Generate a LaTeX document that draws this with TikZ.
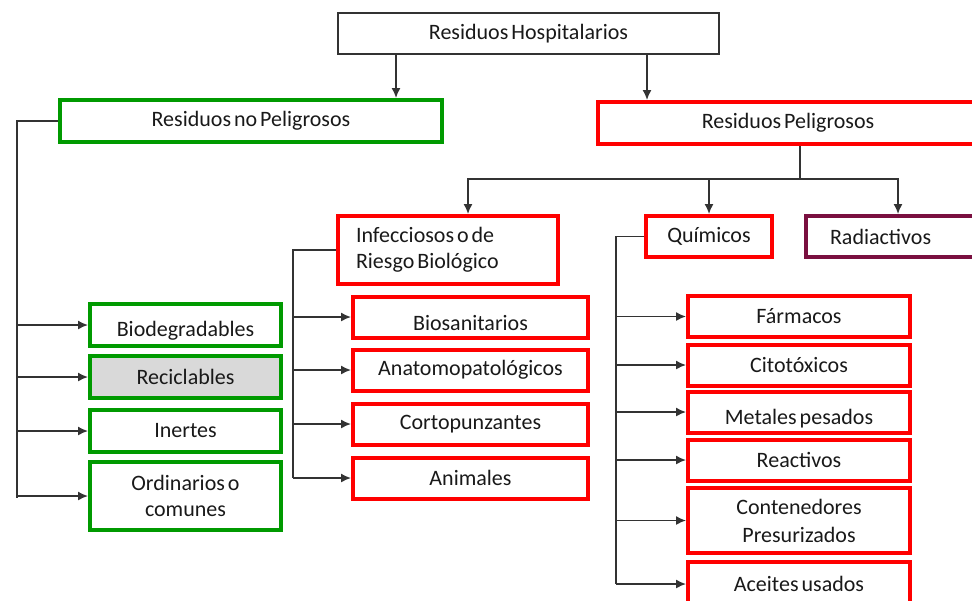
\documentclass[tikz,border=0pt]{standalone}
\usepackage{fontspec}
\setmainfont{Carlito}[WordSpace=0.6]
\usetikzlibrary{arrows.meta}
\definecolor{vino}{HTML}{7A1040}
\definecolor{verde}{HTML}{009A00}
\definecolor{rojo}{HTML}{FF0000}
\begin{document}
\begin{tikzpicture}[x=0.5pt,y=-0.5pt,
    caja/.style={draw,rectangle,inner sep=2pt,text=black!90,
      font=\fontsize{11}{13}\selectfont,align=center},
    noPel/.style={caja,draw=verde,line width=2pt,minimum width=95.5pt,minimum height=21pt},
    pel/.style={caja,draw=rojo,line width=2pt},
    bajo/.style={text height=13pt},
    linea/.style={draw=black!80,line width=0.75pt},
    flecha/.style={linea,-{Latex[length=5pt,width=4.5pt]}}]
  \useasboundingbox (0,0) rectangle (972,600);
  \clip (0,0) rectangle (972,600);
  % raiz y dos ramas
  \node[caja,draw=black!80,line width=0.75pt,minimum width=190.5pt,minimum height=20.5pt]
    (raiz) at (528.5,33.5) {Residuos Hospitalarios};
  \node[noPel,minimum width=191pt] (np) at (251,121) {Residuos no Peligrosos};
  \node[pel,minimum width=190pt,minimum height=21pt] (rp) at (788,123) {Residuos Peligrosos};
  \draw[flecha] ([xshift=-66.25pt]raiz.south) -- ([xshift=-66.25pt]raiz.south |- np.north);
  \draw[flecha] ([xshift=59.25pt]raiz.south) -- ([xshift=59.25pt]raiz.south |- rp.north);

  % residuos no peligrosos
  \node[noPel,bajo] (bio) at (185.5,325) {Biodegradables};
  \node[noPel,fill=black!15] (rec) at (185.5,377) {Reciclables};
  \node[noPel] (ine) at (185.5,431) {Inertes};
  \node[noPel,minimum height=34pt] (ord) at (185.5,496) {Ordinarios o\\comunes};
  \coordinate (npFin) at (17,498);
  \draw[linea] (np.west) -| (npFin);
  \foreach \n in {bio,rec,ine,ord}
    \draw[flecha] (npFin |- \n.west) -- (\n.west);

  % residuos peligrosos
  \node[pel,align=flush left,text width=92pt,inner xsep=9pt,minimum height=34pt]
    (inf) at (448,250) {Infecciosos o de\\Riesgo Biológico};
  \node[pel,minimum width=63pt,minimum height=20.5pt] (qui) at (709,236.5) {Químicos};
  \node[caja,draw=vino,line width=2pt,align=flush left,text width=62pt,inner xsep=12pt,
    minimum height=20.5pt] (rad) at (892,236.5) {Radiactivos};
  \coordinate (bus) at (800,179);
  \draw[linea] (rp.south -| bus) -- (bus);
  \draw[flecha] (bus) -| ([xshift=10pt]inf.north);
  \draw[flecha] (bus) -| ([xshift=3pt]rad.north);
  \draw[flecha] (qui.north |- bus) -- (qui.north);

  % infecciosos
  \tikzstyle{every node}=[pel,minimum width=117.5pt,minimum height=20.5pt]
  \node[bajo,text height=14pt] (bsa) at (470.5,317) {Biosanitarios};
  \node (ana) at (470.5,370) {Anatomopatológicos};
  \node (cor) at (470.5,424) {Cortopunzantes};
  \node (ani) at (470.5,478) {Animales};
  \coordinate (infFin) at (293,478);
  \draw[linea] (inf.west) -| (infFin);
  \foreach \n in {bsa,ana,cor,ani}
    \draw[flecha] (infFin |- \n.west) -- (\n.west);

  % quimicos
  \tikzstyle{every node}=[pel,minimum width=111pt,minimum height=20.5pt]
  \node (far) at (799,316.5) {Fármacos};
  \node (cit) at (799,365) {Citotóxicos};
  \node[bajo,text height=14pt] (met) at (799,412) {Metales pesados};
  \node (rea) at (799,460) {Reactivos};
  \node[minimum height=32.5pt,font=\fontsize{11}{14}\selectfont] (con) at (799,520.5) {Contenedores\\Presurizados};
  \node[minimum height=22pt] (ace) at (799,584) {Aceites usados};
  \coordinate (quiFin) at (616,584);
  \draw[linea] (qui.west) -| (quiFin);
  \foreach \n in {far,cit,met,rea,con,ace}
    \draw[flecha] (quiFin |- \n.west) -- (\n.west);
\end{tikzpicture}
\end{document}
